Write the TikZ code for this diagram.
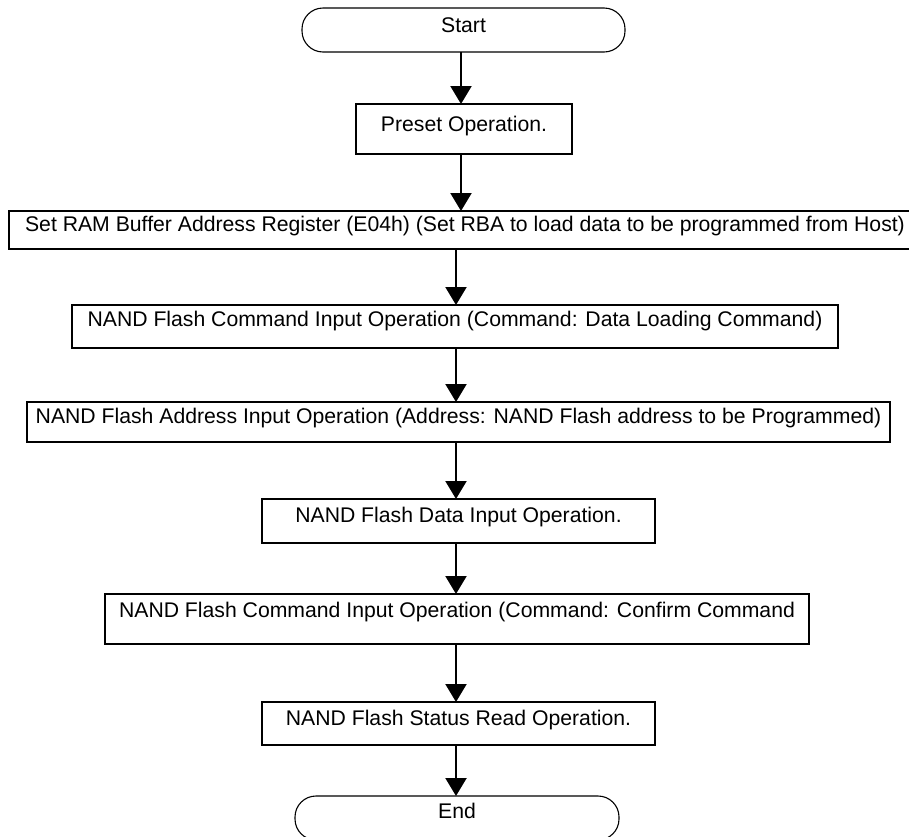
\documentclass[tikz,border=0pt]{standalone}
\usepackage{fontspec}
\setmainfont{Liberation Sans}
\usetikzlibrary{arrows.meta}

\begin{document}
\begin{tikzpicture}[x=1pt,y=-1pt]
\useasboundingbox (0,0) rectangle (909,836);
\coordinate (colA) at (461,0);
\coordinate (colB) at (456,0);
 \begin{scope}[every node/.style={draw, rounded corners=21pt, line width=1.1pt, anchor=north,
                      outer sep=0pt, inner sep=0pt, font=\fontsize{21.2}{25}\selectfont}]
  \node[minimum width=323pt, text height=24pt, text depth=20pt] (start) at (463.5,8) {Start};
  \node[minimum width=324pt, text height=22pt, text depth=22pt] (end) at (457,796) {End};
 \end{scope}
 \begin{scope}[every node/.style={draw, line width=2pt, anchor=north,
                      outer sep=0pt, inner sep=0pt, font=\fontsize{21.2}{25}\selectfont}]
  \node[minimum width=216pt, text height=27pt, text depth=23pt] (preset) at (464,104) {Preset Operation.};
  \node[minimum width=912pt, text height=20pt, text depth=18pt] (rba) at (465,211)
   {Set RAM Buffer Address Register (E04h) (Set RBA to load data to be programmed from Host)};
  \node[minimum width=766pt, text height=21pt, text depth=22pt] (cmdload) at (455,305)
   {NAND Flash Command Input Operation (Command: Data Loading Command)};
  \node[minimum width=863pt, text height=21pt, text depth=19pt] (addr) at (458.5,402)
   {NAND Flash Address Input Operation (Address: NAND Flash address to be Programmed)};
  \node[minimum width=393pt, text height=23pt, text depth=21pt] (data) at (458.5,499)
   {NAND Flash Data Input Operation.};
  \node[minimum width=704pt, text height=23pt, text depth=27pt] (cmdconf) at (457,594)
   {NAND Flash Command Input Operation (Command: Confirm Command};
  \node[minimum width=393pt, text height=23pt, text depth=20pt] (status) at (458.5,702)
   {NAND Flash Status Read Operation.};
 \end{scope}
  \path [-{Triangle[length=18pt,width=21pt]}, line width=2.2pt] (start.south -| colA) edge (preset.north -| colA);
  \path [-{Triangle[length=18pt,width=21pt]}, line width=2.2pt] (preset.south -| colA) edge (rba.north -| colA);
  \path [-{Triangle[length=18pt,width=21pt]}, line width=2.2pt] (rba.south -| colB) edge (cmdload.north -| colB);
  \path [-{Triangle[length=18pt,width=21pt]}, line width=2.2pt] (cmdload.south -| colB) edge (addr.north -| colB);
  \path [-{Triangle[length=18pt,width=21pt]}, line width=2.2pt] (addr.south -| colB) edge (data.north -| colB);
  \path [-{Triangle[length=18pt,width=21pt]}, line width=2.2pt] (data.south -| colB) edge (cmdconf.north -| colB);
  \path [-{Triangle[length=18pt,width=21pt]}, line width=2.2pt] (cmdconf.south -| colB) edge (status.north -| colB);
  \path [-{Triangle[length=18pt,width=21pt]}, line width=2.2pt] (status.south -| colB) edge (end.north -| colB);
\end{tikzpicture}
\end{document}
